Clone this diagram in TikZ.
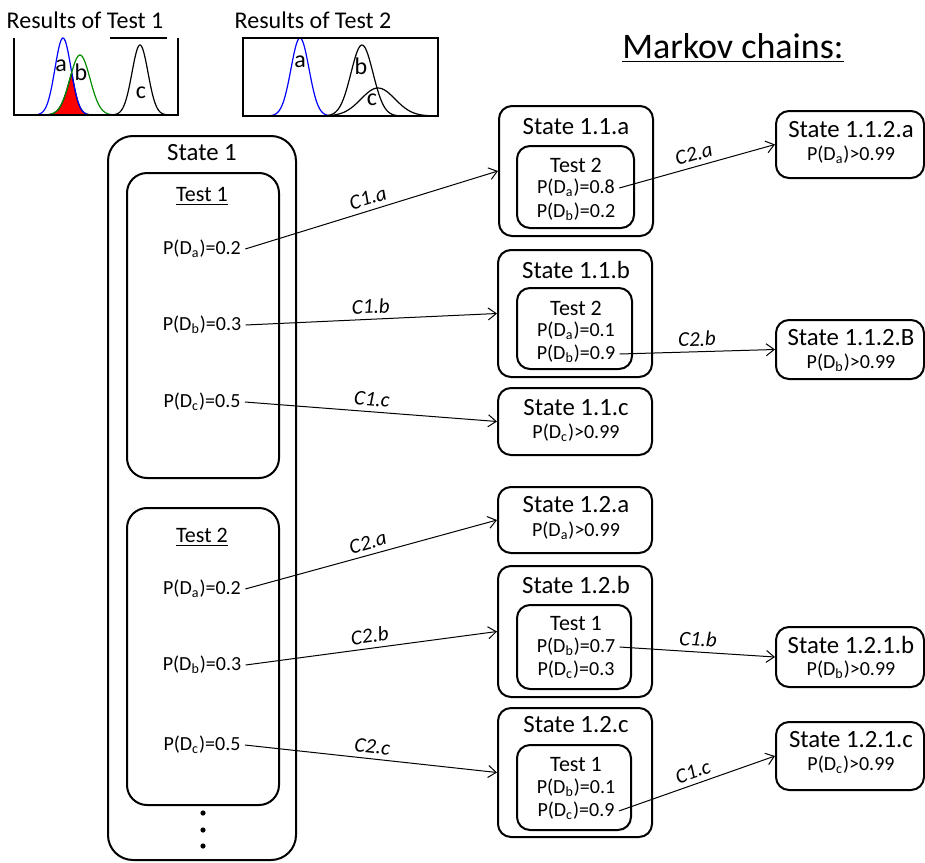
\documentclass[tikz,border=0pt]{standalone}
\usepackage{fontspec}
\setmainfont{Carlito}
\usetikzlibrary{arrows.meta,fit}

\newcommand{\pD}[1]{P(D\textsubscript{#1})}

\tikzset{
  statebox/.style={draw, line width=1pt, rounded corners=6.5pt, inner sep=0pt},
  bigbox/.style={statebox, rounded corners=12.5pt},
  testbox/.style={statebox, rounded corners=10pt},
  ttl/.style={font=\fontsize{12.4}{15}\selectfont, inner sep=1pt},
  tstname/.style={font=\fontsize{11}{13}\selectfont, inner sep=1pt},
  prob/.style={font=\fontsize{10}{12}\selectfont, inner sep=2pt},
  hdr/.style={font=\fontsize{12}{14}\selectfont, inner sep=0pt},
  clab/.style={font=\fontsize{10.5}{12}\selectfont\itshape, sloped, above, inner sep=2.5pt},
  conn/.style={-{Straight Barb[length=4pt,width=6pt]}, line width=0.5pt},
  curve/.style={line width=0.6pt},
  frame/.style={line width=0.8pt},
}

\begin{document}
\begin{tikzpicture}[x=0.5pt,y=-0.5pt]
  \useasboundingbox (0,0) rectangle (925,862);

  % results of test 1
  \node[hdr] (res1) at (85,20) {Results of Test 1};
  \fill[red, draw=black, curve] plot[domain=46:94, samples=80]
    (\x, {115-min(77*exp(-((\x-63)^2)/128), 60*exp(-((\x-80)^2)/200))}) -- cycle;
  \draw[blue, curve] plot[domain=38:90, samples=60] (\x, {115-77*exp(-((\x-63)^2)/128)});
  \draw[green!55!black, curve] plot[domain=50:112, samples=60] (\x, {115-60*exp(-((\x-80)^2)/200)});
  \draw[curve] plot[domain=114:166, samples=60] (\x, {115-70*exp(-((\x-140)^2)/128)});
  \draw[frame] (14,38) -- (14,115) -- (178,115) -- (178,38);
  \draw[frame] (110,38) -- (167,38);
  \node[hdr] (p1a) at (61,66) {a};
  \node[hdr] (p1b) at (81,72) {b};
  \node[hdr] (p1c) at (141,93) {c};

  % results of test 2
  \node[hdr] (res2) at (313,20) {Results of Test 2};
  \draw[blue, curve] plot[domain=270:330, samples=60] (\x, {116-78*exp(-((\x-300)^2)/162)});
  \draw[curve] plot[domain=327:400, samples=60] (\x, {116-71*exp(-((\x-362)^2)/242)});
  \draw[curve] plot[domain=327:428, samples=60] (\x, {116-28*exp(-((\x-378)^2)/578)});
  \draw[frame] (243,38) rectangle (438,116);
  \node[hdr] (p2a) at (300,62) {a};
  \node[hdr] (p2b) at (361,66) {b};
  \node[hdr] (p2c) at (372,100) {c};

  \node[font=\fontsize{18}{22}\selectfont] (mc) at (733,48) {\underline{Markov chains:}};

  % state 1
  \node[bigbox, fit={(108,136) (296,860)}] (s1) {};
  \node[ttl] (s1t) at (202,153) {State 1};
  \node[testbox, fit={(127,173) (279,478)}] (t1) {};
  \node[tstname] (t1n) at (202,196) {\underline{Test 1}};
  \node[prob] (t1a) at (202,249) {\pD{a}=0.2};
  \node[prob] (t1b) at (202,325) {\pD{b}=0.3};
  \node[prob] (t1c) at (202,402) {\pD{c}=0.5};
  \node[testbox, fit={(127,508) (279,805)}] (t2) {};
  \node[tstname] (t2n) at (202,537) {\underline{Test 2}};
  \node[prob] (t2a) at (202,589) {\pD{a}=0.2};
  \node[prob] (t2b) at (202,665) {\pD{b}=0.3};
  \node[prob] (t2c) at (202,745) {\pD{c}=0.5};
  \foreach \y in {813,830,846}
    \fill (203,\y) circle (2.6);

  % states 1.1.x
  \node[statebox, fit={(499,106) (653,236)}] (s11a) {};
  \node[ttl] (s11at) at (576,127) {State 1.1.a};
  \node[statebox, fit={(517,146) (634,228)}] (s11ain) {};
  \node[tstname] (s11an) at (576,165) {Test 2};
  \node[prob] (s11aa) at (576,188) {\pD{a}=0.8};
  \node[prob] (s11ab) at (576,212) {\pD{b}=0.2};

  \node[statebox, fit={(498,250) (652,377)}] (s11b) {};
  \node[ttl] (s11bt) at (576,270) {State 1.1.b};
  \node[statebox, fit={(517,288) (632,369)}] (s11bin) {};
  \node[tstname] (s11bn) at (576,308) {Test 2};
  \node[prob] (s11ba) at (576,331) {\pD{a}=0.1};
  \node[prob] (s11bb) at (576,354) {\pD{b}=0.9};

  \node[statebox, fit={(498,388) (652,455)}] (s11c) {};
  \node[ttl] (s11ct) at (576,408) {State 1.1.c};
  \node[prob] (s11cc) at (576,433) {\pD{c}>0.99};

  % states 1.2.x
  \node[statebox, fit={(498,487) (652,553)}] (s12a) {};
  \node[ttl] (s12at) at (576,505) {State 1.2.a};
  \node[prob] (s12aa) at (576,531) {\pD{a}>0.99};

  \node[statebox, fit={(498,566) (652,697)}] (s12b) {};
  \node[ttl] (s12bt) at (576,585) {State 1.2.b};
  \node[statebox, fit={(517,605) (631,689)}] (s12bin) {};
  \node[tstname] (s12bn) at (576,623) {Test 1};
  \node[prob] (s12bb) at (576,647) {\pD{b}=0.7};
  \node[prob] (s12bc) at (576,670) {\pD{c}=0.3};

  \node[statebox, fit={(498,708) (652,837)}] (s12c) {};
  \node[ttl] (s12ct) at (576,725) {State 1.2.c};
  \node[statebox, fit={(517,745) (631,830)}] (s12cin) {};
  \node[tstname] (s12cn) at (576,764) {Test 1};
  \node[prob] (s12cb) at (576,788) {\pD{b}=0.1};
  \node[prob] (s12cc) at (576,811) {\pD{c}=0.9};

  % last states
  \node[statebox, fit={(776,111) (924,178)}] (s112a) {};
  \node[ttl] (s112at) at (851,130) {State 1.1.2.a};
  \node[prob] (s112aa) at (851,155) {\pD{a}>0.99};

  \node[statebox, fit={(776,320) (924,379)}] (s112b) {};
  \node[ttl] (s112bt) at (851,338) {State 1.1.2.B};
  \node[prob] (s112bb) at (851,363) {\pD{b}>0.99};

  \node[statebox, fit={(776,627) (924,687)}] (s121b) {};
  \node[ttl] (s121bt) at (851,645) {State 1.2.1.b};
  \node[prob] (s121bb) at (851,670) {\pD{b}>0.99};

  \node[statebox, fit={(776,722) (924,790)}] (s121c) {};
  \node[ttl] (s121ct) at (851,740) {State 1.2.1.c};
  \node[prob] (s121cc) at (851,765) {\pD{c}>0.99};

  % transitions
  \draw[conn] (t1a.east) -- node[clab] {C1.a} (s11a.west);
  \draw[conn] (t1b.east) -- node[clab] {C1.b} (s11b.west);
  \draw[conn] (t1c.east) -- node[clab] {C1.c} (s11c.west);
  \draw[conn] (t2a.east) -- node[clab] {C2.a} (s12a.west);
  \draw[conn] (t2b.east) -- node[clab] {C2.b} (s12b.west);
  \draw[conn] (t2c.east) -- node[clab] {C2.c} (s12c.west);
  \draw[conn] (s11aa.east) -- node[clab] {C2.a} (s112a.west);
  \draw[conn] (s11bb.east) -- node[clab] {C2.b} (s112b.west);
  \draw[conn] (s12bb.east) -- node[clab] {C1.b} (s121b.west);
  \draw[conn] (s12cc.east) -- node[clab] {C1.c} (s121c.west);
\end{tikzpicture}
\end{document}
